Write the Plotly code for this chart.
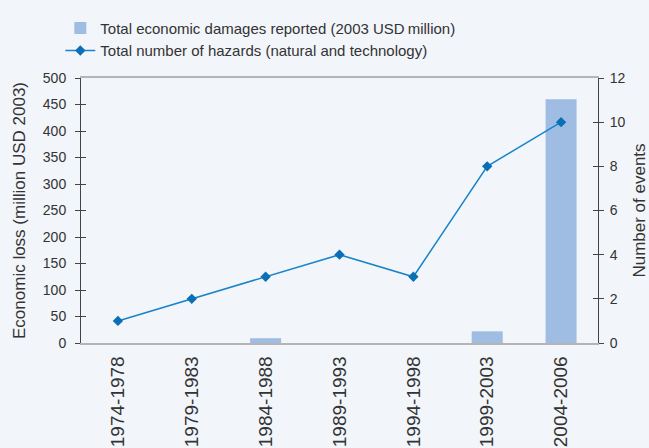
import plotly.graph_objects as go

periods = ["1974-1978", "1979-1983", "1984-1988", "1989-1993", "1994-1998", "1999-2003", "2004-2006"]
damages = [0, 0, 9, 0, 0, 22, 460]
hazards = [1, 2, 3, 4, 3, 8, 10]

FONT = "Liberation Sans Narrow, Arial Narrow, Liberation Sans, Arial"
TXT = "#333333"

fig = go.Figure()
fig.add_trace(go.Bar(
    x=periods, y=damages, name="Total economic damages reported (2003 USD\u2009million)",
    marker=dict(color="#9fbde3", line=dict(width=0)), yaxis="y",
))
fig.add_trace(go.Scatter(
    x=periods, y=hazards, name="Total number of hazards (natural and technology)",
    mode="lines+markers", line=dict(color="#1a84c9", width=1.5),
    marker=dict(symbol="diamond", size=8, color="#0b6fb6"), yaxis="y2",
))

fig.update_layout(
    width=649, height=448,
    margin=dict(l=81, r=51, t=74, b=105),
    paper_bgcolor="#f2f5fa", plot_bgcolor="#f2f5fa",
    font=dict(family=FONT, size=14, color=TXT),
    bargap=0.58,
    showlegend=True,
    legend=dict(x=-0.040, y=1.25, xanchor="left", yanchor="top",
                bgcolor="rgba(0,0,0,0)", font=dict(size=15, color=TXT),
                tracegroupgap=2, itemwidth=30),
    xaxis=dict(
        tickangle=-90, showline=True, linecolor="#b5b5b5", linewidth=1.5,
        mirror=True, ticks="", showgrid=False, zeroline=False,
        tickfont=dict(size=19, color=TXT), automargin=False, ticklabelstandoff=4,
    ),
    yaxis=dict(
        range=[0, 500], dtick=50, showgrid=False, zeroline=False,
        showline=True, linecolor="#444444", linewidth=1,
        ticks="outside", ticklen=5, tickcolor="#444444", ticklabelstandoff=6,
        title=dict(text="Economic loss (million USD 2003)", font=dict(size=17, color=TXT), standoff=12),
        tickfont=dict(size=14, color=TXT), automargin=False,
    ),
    yaxis2=dict(
        range=[0, 12], dtick=2, overlaying="y", side="right", showgrid=False,
        zeroline=False, showline=True, linecolor="#444444", linewidth=1,
        ticks="outside", ticklen=5, tickcolor="#444444", ticklabelstandoff=3,
        title=dict(text="Number of events", font=dict(size=17, color=TXT), standoff=10),
        tickfont=dict(size=14, color=TXT), automargin=False,
    ),
    yaxis3=dict(
        range=[0, 500], dtick=50, overlaying="y", side="left", anchor="x",
        showgrid=False, zeroline=False, showline=False, showticklabels=False,
        ticks="inside", ticklen=5, tickcolor="#444444",
    ),
    yaxis4=dict(
        range=[0, 12], dtick=2, overlaying="y", side="right", anchor="x",
        showgrid=False, zeroline=False, showline=False, showticklabels=False,
        ticks="inside", ticklen=5, tickcolor="#444444",
    ),
)
# invisible traces to activate the inner tick axes
fig.add_trace(go.Scatter(x=[periods[0]], y=[0], yaxis="y3", showlegend=False,
                         mode="markers", marker=dict(opacity=0), hoverinfo="skip"))
fig.add_trace(go.Scatter(x=[periods[0]], y=[0], yaxis="y4", showlegend=False,
                         mode="markers", marker=dict(opacity=0), hoverinfo="skip"))

fig.write_html("out.html")
